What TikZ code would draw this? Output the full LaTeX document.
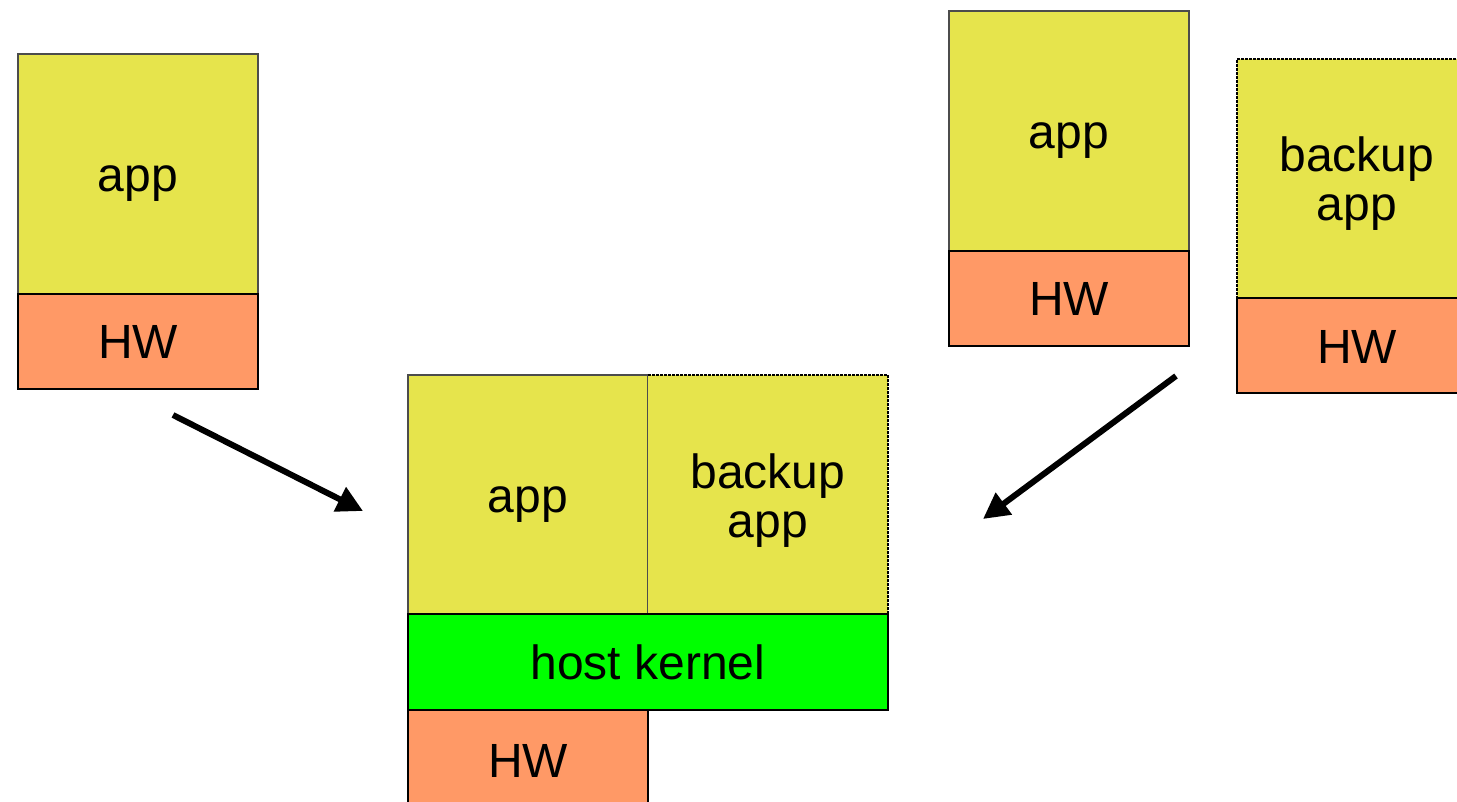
\documentclass[tikz,border=0pt]{standalone}
\usepackage{fontspec}
\setmainfont{Liberation Sans}
\usetikzlibrary{arrows.meta}
\definecolor{appyel}{RGB}{230,228,76}
\definecolor{hworange}{RGB}{255,153,102}
\definecolor{kgreen}{RGB}{0,255,0}
\newcommand{\tline}[1]{\raisebox{0pt}[35pt][0pt]{#1}}
\tikzset{
  blk/.style={rectangle, anchor=north west, inner sep=0pt, outer sep=0pt, draw=black, line width=1.3pt, align=center,
    font=\fontsize{48}{49}\selectfont},
  appbox/.style={blk, fill=appyel, minimum width=240pt, minimum height=240pt, draw=black!70},
  hwbox/.style={blk, fill=hworange, minimum width=240pt, minimum height=95pt},
  kbox/.style={blk, fill=kgreen, minimum width=480pt, minimum height=96pt, line width=1.8pt},
  bkbox/.style={appbox, draw=none},
  dashline/.style={line width=1.3pt, dash pattern=on 2.5pt off 1.5pt},
  bigarrow/.style={line width=6pt, -{Triangle[length=26pt,width=26pt]}}
}
\begin{document}
\begin{tikzpicture}[x=1pt,y=-1pt]
\useasboundingbox (0,0) rectangle (1457,802);
\clip (0,0) rectangle (1457,802);
% left stack
\node[appbox] (la) at (18,54) {\tline{app}};
\node[hwbox] (lh) at (18,294) {\tline{HW}};
% middle stack
\node[appbox] (ma) at (408,375) {\tline{app}};
\node[bkbox] (mb) at (648,375) {\tline{backup}\\\tline{app}};
\draw[dashline] (mb.north west) -- (mb.north east) -- (mb.south east);
\node[kbox] (mk) at (408,614) {\tline{host kernel}};
\node[hwbox, minimum height=100pt] (mh) at (408,710) {\tline{HW}};
% right stack 1
\node[appbox] (ra) at (949,11) {\tline{app}};
\node[hwbox] (rh) at (949,251) {\tline{HW}};
% right stack 2
\node[bkbox] (rb) at (1237,59) {\tline{backup}\\\tline{app}};
\draw[dashline] (rb.south west) -- (rb.north west) -- (rb.north east);
\node[hwbox] (rbh) at (1237,298) {\tline{HW}};
% arrows
\coordinate (a1s) at (173,415);
\coordinate (a1e) at (363,511);
\coordinate (a2s) at (1176,376);
\coordinate (a2e) at (983,519);
\draw[bigarrow] (a1s) -- (a1e);
\draw[bigarrow] (a2s) -- (a2e);
\end{tikzpicture}
\end{document}
